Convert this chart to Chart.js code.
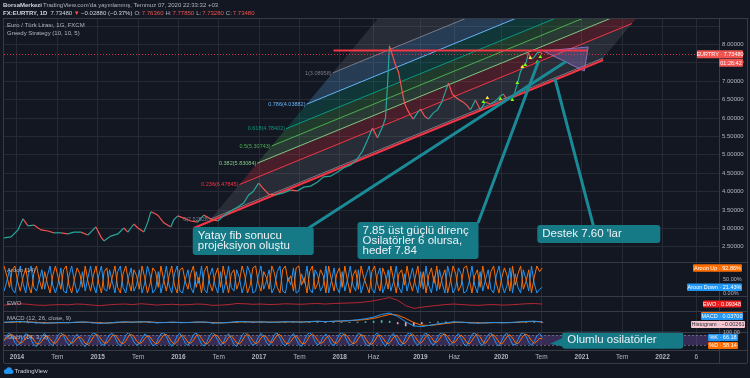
<!DOCTYPE html>
<html><head><meta charset="utf-8">
<script src="https://cdn.jsdelivr.net/npm/chart.js@4.4.1/dist/chart.umd.min.js"></script>
<style>html,body{margin:0;padding:0;background:#131722;overflow:hidden}canvas{display:block}</style>
</head><body>
<canvas id="c" width="750" height="378"></canvas>
<script>
// ================= DATA =================
const priceDates = [2013.839,2013.926,2014.012,2014.074,2014.136,2014.210,2014.297,2014.384,2014.458,2014.545,
2014.631,2014.705,2014.792,2014.879,2014.978,2015.040,2015.077,2015.163,2015.250,2015.324,
2015.374,2015.448,2015.498,2015.572,2015.621,2015.658,2015.696,2015.745,2015.819,2015.906,
2015.943,2015.993,2016.067,2016.153,2016.240,2016.314,2016.401,2016.488,2016.562,2016.649,
2016.735,2016.809,2016.871,2016.921,2016.995,2017.045,2017.119,2017.205,2017.292,2017.391,
2017.478,2017.552,2017.639,2017.725,2017.800,2017.886,2017.973,2018.047,2018.134,2018.208,
2018.282,2018.344,2018.406,2018.468,2018.530,2018.567,2018.592,2018.616,2018.653,2018.691,
2018.728,2018.765,2018.802,2018.839,2018.876,2018.913,2018.963,2019.000,2019.050,2019.099,
2019.161,2019.210,2019.260,2019.309,2019.347,2019.396,2019.433,2019.483,2019.532,2019.582,
2019.619,2019.681,2019.743,2019.804,2019.866,2019.928,2019.990,2020.027,2020.077,2020.126,
2020.163,2020.200,2020.238,2020.275,2020.312,2020.337,2020.374,2020.411,2020.448,2020.485,
2020.510];
const priceValues = [2.74,2.77,2.96,3.26,3.07,3.09,2.96,2.93,2.88,2.88,
2.85,2.90,2.90,2.82,3.04,2.77,2.66,2.79,2.85,3.01,
2.90,3.12,3.01,2.90,3.17,3.45,3.42,3.36,3.15,3.04,
3.23,3.34,3.28,3.20,3.17,3.36,3.26,3.20,3.34,3.47,
3.58,3.69,3.91,3.99,4.23,4.10,3.93,3.91,3.96,4.04,
4.02,4.12,4.15,4.26,4.40,4.42,4.53,4.64,4.72,4.86,
5.10,5.40,5.73,5.46,5.76,6.00,6.90,7.96,7.71,7.44,
7.25,6.82,6.41,6.22,6.08,5.97,6.14,6.24,6.05,5.97,
6.14,6.22,6.41,6.71,6.95,6.65,6.57,6.49,6.43,6.33,
6.22,6.49,6.22,6.43,6.38,6.46,6.60,6.65,6.49,6.54,
6.65,6.92,7.25,7.41,7.52,7.77,7.60,7.66,7.77,7.79,
7.7348];
const lastPrice = 7.7348;

const xTickValues = [2014,2014.5,2015,2015.5,2016,2016.5,2017,2017.5,2018,2018.42,2019,2019.42,2020,2020.5,2021,2021.5,2022,2022.42];
const xTickLabels = ['2014','Tem','2015','Tem','2016','Tem','2017','Tem','2018','Haz','2019','Haz','2020','Tem','2021','Tem','2022','6'];
const priceTicks = [2.5,3,3.5,4,4.5,5,5.5,6,6.5,7,7.5,8,8.5];

// Fib channel (levels, labels, base line and level-1 shift in data units)
const fibLevels = [0,0.236,0.382,0.5,0.618,0.786,1,1.618];
const fibLabels = ['0(7.52528)','0.236(6.47845)','0.382(5.83084)','0.5(5.30743)','0.618(4.78402)','0.786(4.03882)','1(3.08958)',''];
const fibBaseStart = [2016.401, 3.255];
const fibBaseEnd = [2021.265, 7.630];
const fibLevelOneShift = [1.510, 3.968];

// Drawn trend lines [x1,y1,x2,y2]
const supportLine = [2016.191, 3.011, 2021.265, 7.576];
const resistanceLine = [2017.923, 7.837, 2021.067, 7.837];
const pointerLines = [[2017.577,2.957,2020.795,7.522],[2019.718,3.174,2020.460,7.522],[2021.141,3.092,2020.671,7.033]];
const purpleShapeX = [2020.522, 2021.079, 2021.030, 2020.522];
const purpleShapeY = [7.821, 7.929, 7.277, 7.821];

// Greedy strategy markers
const greedyGreenX = [2019.780,2019.990,2020.139,2020.200,2020.300,2020.448,2020.485];
const greedyGreenY = [6.435,6.516,6.489,6.951,7.440,7.522,7.658];
const greedyYellowX = [2019.829,2020.262,2020.361];
const greedyYellowY = [6.543,7.386,7.630];

// Lower panes (evenly spaced samples from first to last bar)
const lowerStart = 2013.84, lowerEnd = 2020.51;
const aroonUp = [100,64,21,86,100,43,7,57,93,29,0,71,100,50,14,79,36,0,64,100,
57,14,86,100,29,0,50,93,71,21,100,43,7,64,100,36,0,79,93,14,
57,100,21,0,71,100,43,7,86,64,14,100,57,0,36,93,79,21,100,50,
7,64,100,29,0,86,93,43,14,71,100,21,57,0,79,100,36,7,64,93,
21,100,50,0,71,86,14,43,100,64,0,29,93,100,36,7,79,57,14,100,
71,21,0,86,100,43,64,7,93,100,29,57,0,79,100,14,36,86,64,0,
100,50,7,71,93,21,100,43,0,64,86,14,100,57,29,0,79,100,36,7,
93,64,14,100,50,0,71,86,29,100,43,7,57,100,21,79,0,64,93,36,
100,14,57,86,0,43,100,71,7,29,93,100,50,0,64,86,21,100,43,14,
79,100,36,0,57,93,64,7,100,29,71,100,14,43,86,0,57,100,79,92.86];
const aroonDown = [7,43,86,14,0,57,100,36,0,71,100,21,7,50,86,14,64,100,29,0,
36,93,7,0,64,100,43,0,21,79,7,57,100,29,0,64,100,14,7,86,
43,0,79,100,21,0,57,93,7,29,86,0,36,100,64,0,14,79,0,43,
100,29,0,71,100,7,0,50,86,21,0,79,36,100,14,0,64,93,29,0,
79,0,43,100,21,7,86,57,0,36,100,71,0,7,64,100,14,43,86,0,
21,79,100,7,0,57,29,93,0,7,71,36,100,14,0,86,64,7,29,100,
0,43,93,21,0,79,7,50,100,29,7,86,0,36,71,100,14,0,64,93,
0,29,86,7,43,100,21,0,71,7,50,93,36,0,79,14,100,29,0,64,
7,86,36,0,100,57,0,21,93,71,0,7,43,100,29,0,79,7,50,86,
14,0,64,100,36,0,29,93,0,71,21,0,86,50,7,100,36,0,14,21.43];
const ewo = [-0.1,0.05,0.15,0.05,-0.1,-0.15,-0.05,0.0,-0.05,0.1,
0.05,-0.1,-0.2,-0.05,0.05,0.1,0.0,0.15,0.05,-0.1,
0.0,0.05,-0.05,0.0,0.1,0.05,-0.15,-0.1,0.0,0.2,
0.15,0.05,0.1,0.0,0.05,0.15,0.1,0.05,0.15,0.2,
0.1,0.2,0.25,0.3,0.35,0.5,0.7,1.0,1.3,0.8,
-0.2,-0.7,-0.5,-0.3,-0.15,0.0,0.1,0.0,-0.1,-0.15,
-0.05,0.0,-0.1,-0.05,0.05,0.15,0.2,0.09348];
const macdLine = [0.02,0.05,0.08,0.03,-0.02,-0.05,-0.03,0.0,-0.02,0.03,
0.04,-0.02,-0.06,-0.04,0.02,0.05,0.02,0.06,0.04,-0.02,
0.0,0.03,-0.01,0.0,0.04,0.03,-0.04,-0.03,0.01,0.07,
0.06,0.03,0.05,0.02,0.03,0.06,0.05,0.03,0.07,0.1,
0.06,0.1,0.12,0.15,0.2,0.28,0.4,0.6,0.7,0.45,
0.05,-0.25,-0.3,-0.2,-0.1,-0.02,0.05,0.02,-0.03,-0.05,
-0.02,0.0,-0.02,0.0,0.04,0.08,0.1,0.037];
const macdSignal = [0.0,0.02,0.05,0.05,0.02,-0.02,-0.03,-0.02,-0.01,0.01,
0.03,0.01,-0.03,-0.04,-0.01,0.03,0.03,0.04,0.05,0.01,
0.0,0.01,0.01,0.0,0.02,0.03,0.0,-0.03,-0.01,0.03,
0.05,0.04,0.04,0.03,0.03,0.04,0.05,0.04,0.05,0.08,
0.07,0.08,0.1,0.13,0.17,0.22,0.3,0.45,0.6,0.55,
0.3,0.0,-0.2,-0.22,-0.15,-0.07,0.0,0.02,0.0,-0.03,
-0.03,-0.01,-0.01,-0.01,0.02,0.05,0.08,0.039];
const macdHist = [0.02,0.03,0.03,-0.02,-0.04,-0.03,0.0,0.02,-0.01,0.02,
0.01,-0.03,-0.03,0.0,0.03,0.02,-0.01,0.02,-0.01,-0.03,
0.0,0.02,-0.02,0.0,0.02,0.0,-0.04,0.0,0.02,0.04,
0.01,-0.01,0.01,-0.01,0.0,0.02,0.0,-0.01,0.02,0.02,
-0.01,0.02,0.02,0.02,0.03,0.06,0.1,0.15,0.1,-0.1,
-0.25,-0.25,-0.1,0.02,0.05,0.05,0.05,0.0,-0.03,-0.02,
0.01,0.01,-0.01,0.01,0.02,0.03,0.02,-0.003];
const stochK = [45,78,92,70,35,18,30,65,88,80,50,22,12,40,72,90,62,28,15,48,
80,94,75,40,20,35,68,85,55,25,10,38,76,92,84,52,24,18,55,82,
90,66,30,14,42,78,95,72,38,20,28,60,86,74,44,16,22,58,88,93,
70,34,12,36,74,90,64,30,18,46,82,92,60,26,14,40,76,94,80,48,
20,32,70,88,58,24,12,44,80,95,78,42,18,30,66,90,72,36,16,50,
84,92,62,28,14,38,72,88,56,22,12,46,82,94,76,40,20,34,70,86,
60,26,16,52,86,95,74,38,18,30,64,90,82,48,20,14,42,78,92,66,
32,12,40,76,90,58,24,16,50,84,94,70,34,18,44,80,92,62,28,22,
56,86,95,76,42,20,36,72,88,60,26,14,48,84,93,68,30,18,54,82,
92,64,28,14,46,80,90,58,24,20,52,86,94,72,36,18,40,74,88,66.18];
const stochD = [50,62,80,82,66,42,28,40,62,80,72,50,28,26,42,68,74,58,36,30,
50,76,84,70,45,30,40,62,70,55,30,22,40,68,84,76,52,32,32,52,
76,80,62,36,28,44,72,84,72,44,28,36,58,76,68,44,28,32,56,80,
84,64,38,26,40,66,80,62,36,30,48,76,82,60,34,26,42,68,82,74,
48,28,40,66,76,56,32,26,44,72,86,72,46,28,36,62,78,68,42,32,
56,80,82,60,34,26,40,64,76,54,30,26,46,74,86,72,46,30,36,62,
76,58,34,30,50,76,86,72,44,28,34,60,82,76,50,28,24,44,72,80,
64,38,26,40,66,78,60,34,28,46,74,86,70,42,30,46,72,84,66,40,
36,56,80,86,72,46,32,42,66,80,62,36,26,46,72,86,70,40,30,52,
76,82,62,36,26,46,72,82,62,36,28,50,76,86,72,46,30,42,60,58.14];

// ================= STYLE / BUILD =================
const BG='#131722', GRID='#262a35', FRAME='#363a45', TXT='#b2b5be';
const TEAL='#26a69a', RED='#ef5350';
const FONT='"Liberation Sans", Arial, sans-serif';
const fibColors=['#787b86','#f23645','#81c784','#4caf50','#089981','#64b5f6','#787b86','#787b86'];
const bandColors=['rgba(120,123,134,0.22)','rgba(242,54,69,0.24)','rgba(129,199,132,0.2)','rgba(76,175,80,0.24)','rgba(8,153,129,0.24)','rgba(100,181,246,0.24)','rgba(120,123,134,0.22)'];

Chart.defaults.font.family = FONT;
Chart.defaults.elements.point.radius = 0;
Chart.defaults.elements.line.tension = 0;

const xy = (xs, ys) => xs.map((x,i)=>({x, y: ys[i]}));
const spread = vals => vals.map((v,i)=>({x: lowerStart + i*(lowerEnd-lowerStart)/(vals.length-1), y: v}));
const fibPt = (base, L) => ({x: base[0] + L*fibLevelOneShift[0], y: base[1] + L*fibLevelOneShift[1]});
const seg = a => [{x:a[0],y:a[1]},{x:a[2],y:a[3]}];

const datasets = [];
for (let i=0;i<fibLevels.length-1;i++){
  const a=fibLevels[i], b=fibLevels[i+1];
  datasets.push({type:'line', yAxisID:'y', order:100,
    data:[fibPt(fibBaseStart,a),fibPt(fibBaseEnd,a),fibPt(fibBaseEnd,b),fibPt(fibBaseStart,b),fibPt(fibBaseStart,a)],
    borderColor:'rgba(0,0,0,0)', borderWidth:0, fill:'shape', backgroundColor:bandColors[i]});
}
for (let i=0;i<fibLevels.length-1;i++){
  const L=fibLevels[i];
  datasets.push({type:'line', yAxisID:'y', order:90, data:[fibPt(fibBaseStart,L),fibPt(fibBaseEnd,L)],
    borderColor:fibColors[i], borderWidth:1, fill:false});
}
datasets.push({type:'line', yAxisID:'y', order:85, data:xy(purpleShapeX,purpleShapeY),
  borderColor:'rgba(149,117,205,0.9)', borderWidth:1, fill:'shape', backgroundColor:'rgba(149,117,205,0.35)'});
datasets.push({type:'line', yAxisID:'y', order:80, data:seg(supportLine), borderColor:'#f23645', borderWidth:2, fill:false});
datasets.push({type:'line', yAxisID:'y', order:80, data:seg(resistanceLine), borderColor:'#f23645', borderWidth:2, fill:false});
datasets.push({type:'line', yAxisID:'y', order:20, data:xy(priceDates,priceValues), borderWidth:1.2, fill:false,
  borderColor:TEAL, segment:{borderColor:c=>c.p1.parsed.y>=c.p0.parsed.y?TEAL:RED}});
datasets.push({type:'line', yAxisID:'y', order:15, data:xy(greedyGreenX,greedyGreenY), showLine:false,
  pointStyle:'triangle', pointRadius:2.2, pointBackgroundColor:'#76ff03', pointBorderWidth:0});
datasets.push({type:'line', yAxisID:'y', order:15, data:xy(greedyYellowX,greedyYellowY), showLine:false,
  pointStyle:'triangle', pointRadius:2.2, pointBackgroundColor:'#ffeb3b', pointBorderWidth:0});
pointerLines.forEach(p=>datasets.push({type:'line', yAxisID:'y', order:5, data:seg(p), borderColor:'#1a8a96', borderWidth:3, fill:false, borderCapStyle:'round'}));
datasets.push({type:'line', yAxisID:'yA', order:30, data:spread(aroonUp), borderColor:'#ff6d00', borderWidth:1, fill:false});
datasets.push({type:'line', yAxisID:'yA', order:31, data:spread(aroonDown), borderColor:'#2196f3', borderWidth:1, fill:false});
datasets.push({type:'line', yAxisID:'yE', order:30, data:spread(ewo), borderColor:'#b22833', borderWidth:1, fill:false});
datasets.push({type:'bar', yAxisID:'yM', order:33, data:spread(macdHist), barThickness:1, grouped:false,
  backgroundColor:c=>(c.raw&&c.raw.y<0)?'#f7a1ab':'#4db6ac'});
datasets.push({type:'line', yAxisID:'yM', order:31, data:spread(macdLine), borderColor:'#2196f3', borderWidth:1, fill:false});
datasets.push({type:'line', yAxisID:'yM', order:32, data:spread(macdSignal), borderColor:'#ff6d00', borderWidth:1, fill:false});
datasets.push({type:'line', yAxisID:'yS', order:31, data:spread(stochK), borderColor:'#2196f3', borderWidth:1, fill:false});
datasets.push({type:'line', yAxisID:'yS', order:30, data:spread(stochD), borderColor:'#ff6d00', borderWidth:1, fill:false});

const callouts = [
  {ax:'y', at:[2016.178,3.038], w:121, h:28, lines:['Yatay fib sonucu','projeksiyon oluştu']},
  {ax:'y', at:[2018.220,3.174], w:121, h:37, lines:['7.85 üst güçlü direnç','Osilatörler 6 olursa,','hedef 7.84']},
  {ax:'y', at:[2020.448,3.092], w:123, h:18, lines:["Destek 7.60 'lar"]},
  {ax:'yS', at:[2020.757,100], w:121, h:17, lines:['Olumlu osilatörler'], tail:true}
];

function rr(g,x,y,w,h,r){g.beginPath();g.moveTo(x+r,y);g.arcTo(x+w,y,x+w,y+h,r);g.arcTo(x+w,y+h,x,y+h,r);g.arcTo(x,y+h,x,y,r);g.arcTo(x,y,x+w,y,r);g.closePath();}
function tag(g,x,y,w,h,bg,text,fg){g.fillStyle=bg;rr(g,x,y,w,h,1);g.fill();g.fillStyle=fg||'#ffffff';g.font='5.5px '+FONT;g.textAlign='center';g.textBaseline='middle';g.fillText(text,x+w/2,y+h/2+0.4);g.textAlign='left';}
function seq(g,x,y,parts){for(const p of parts){g.font=p[2];g.fillStyle=p[1];g.fillText(p[0],x,y);x+=g.measureText(p[0]).width+(p[3]||0);}}
function hline(g,x1,x2,y,col){g.strokeStyle=col;g.lineWidth=1;g.beginPath();g.moveTo(x1,Math.round(y)+0.5);g.lineTo(x2,Math.round(y)+0.5);g.stroke();}
function vline(g,x,y1,y2,col){g.strokeStyle=col;g.lineWidth=1;g.beginPath();g.moveTo(Math.round(x)+0.5,y1);g.lineTo(Math.round(x)+0.5,y2);g.stroke();}

const paint = {
  id:'paint',
  beforeDraw(c){const g=c.ctx;g.save();g.fillStyle=BG;g.fillRect(0,0,c.width,c.height);g.restore();},
  beforeDatasetsDraw(c){
    const s=c.scales.yS,a=c.chartArea,g=c.ctx;
    const y80=s.getPixelForValue(80),y20=s.getPixelForValue(20);
    g.save();g.fillStyle='rgba(126,87,194,0.33)';g.fillRect(a.left,y80,a.right-a.left,y20-y80);
    g.setLineDash([2,2]);[y80,y20].forEach(y=>hline(g,a.left,a.right,y,'rgba(140,140,160,0.6)'));g.restore();
  },
  afterDatasetsDraw(c){
    const g=c.ctx,x=c.scales.x,y=c.scales.y,a=c.chartArea;
    g.save();
    g.setLineDash([1,2]);hline(g,a.left,a.right,y.getPixelForValue(lastPrice),'rgba(242,54,69,0.85)');g.setLineDash([]);
    g.font='5.5px '+FONT;g.textAlign='right';g.textBaseline='middle';
    fibLevels.forEach((L,i)=>{if(!fibLabels[i])return;const p=fibPt(fibBaseStart,L);g.fillStyle=fibColors[i];
      g.fillText(fibLabels[i],x.getPixelForValue(p.x)-1,y.getPixelForValue(p.y));});
    g.textAlign='left';
    callouts.forEach(cb=>{
      const px=x.getPixelForValue(cb.at[0]),py=c.scales[cb.ax].getPixelForValue(cb.at[1]);
      g.fillStyle='#167a86';
      if(cb.tail){g.beginPath();g.moveTo(px+1,py+6);g.lineTo(px-12,py+12);g.lineTo(px+1,py+15);g.closePath();g.fill();}
      rr(g,px,py,cb.w,cb.h,3);g.fill();
      g.fillStyle='#eef1f6';g.font='11.5px '+FONT;g.textBaseline='middle';
      cb.lines.forEach((t,i)=>g.fillText(t,px+5,py+(cb.tail?8:8.5)+i*10));
    });
    g.restore();
  },
  afterDraw(c){
    const g=c.ctx,a=c.chartArea,sc=c.scales;
    g.save();
    ['yA','yE','yM','yS'].forEach(k=>hline(g,a.left,747,sc[k].top,FRAME));
    hline(g,a.left,747,a.top,FRAME);hline(g,a.left,747,a.bottom,FRAME);hline(g,a.left,747,363,FRAME);
    vline(g,a.left-1,a.top,363,FRAME);vline(g,747,a.top,363,FRAME);vline(g,a.right,a.top,363,FRAME);
    g.textBaseline='middle';g.textAlign='left';
    seq(g,3,5.5,[['BorsaMerkezi','#d1d4dc','bold 6px '+FONT,1],["TradingView.com'da yayınlanmış, Temmuz 07, 2020 22:33:32 +03",TXT,'6px '+FONT]]);
    const F6='6px '+FONT;
    seq(g,3,13.5,[['FX:EURTRY, 1D','#d1d4dc','bold 6px '+FONT,3],['7.73480','#d1d4dc',F6,1.5],['▼','#ef5350',F6,1.5],['−0.02880 (−0.37%)','#d1d4dc',F6,2],
      ['O:',TXT,F6,1],['7.76360','#ef5350',F6,2],['H:',TXT,F6,1],['7.77850','#ef5350',F6,2],['L:',TXT,F6,1],['7.73280','#ef5350',F6,2],['C:',TXT,F6,1],['7.73480','#ef5350',F6]]);
    g.font=F6;g.fillStyle=TXT;
    g.fillText('Euro / Türk Lirası, 1G, FXCM',7,a.top+7);
    g.fillText('Greedy Strategy (10, 10, 5)',7,a.top+15);
    g.fillText('Aroon (14)',7,sc.yA.top+8);
    g.fillText('EWO',7,sc.yE.top+7);
    g.fillText('MACD (12, 26, close, 9)',7,sc.yM.top+7);
    g.fillText('Stoch (14, 3, 3)',7,sc.yS.top+5);
    g.font='5.5px '+FONT;g.fillStyle=TXT;
    g.fillText('50.00%',723,sc.yA.getPixelForValue(50));
    g.fillText('0.00%',723,sc.yA.getPixelForValue(0));
    g.fillText('100.00',723,sc.yS.top);
    const yp=sc.y.getPixelForValue(lastPrice);
    tag(g,697,yp-4,46,8,'#ef5350','EURTRY · 7.73480');
    tag(g,719,yp+4.5,24,8,'#ef5350','01:26:42');
    tag(g,693,sc.yA.getPixelForValue(92.86)-3.8,49,7.5,'#ff6d00','Aroon Up · 92.86%');
    tag(g,687,sc.yA.getPixelForValue(21.43)-3.8,55,7.5,'#2196f3','Aroon Down · 21.43%');
    tag(g,703,sc.yE.getPixelForValue(0.09348)-3.5,38,7,'#f01c1c','EWO · 0.09348');
    tag(g,701,sc.yM.top+1,42,7,'#ff6d00','');
    tag(g,701,sc.yM.top+2,42,7,'#2196f3','MACD · 0.03700');
    tag(g,691,sc.yM.top+10,54,7,'#f8c8d2','Histogram · −0.00261','#2a2e39');
    tag(g,708,sc.yS.top+2,30,7,'#2196f3','%K · 66.18');
    tag(g,708,sc.yS.top+10,30,7,'#ff6d00','%D · 58.14');
    g.fillStyle='#2196f3';
    g.beginPath();g.arc(6,371.5,2.2,0,7);g.arc(9,370,2.8,0,7);g.arc(11.5,371.8,2,0,7);g.fill();g.fillRect(5,371.5,7,2.3);
    g.font='6px '+FONT;g.fillStyle='#d1d4dc';g.fillText('TradingView',14.5,371.5);
    g.restore();
  }
};

const sideAxis = (weight,min,max) => ({type:'linear',position:'right',stack:'panes',stackWeight:weight,min,max,
  ticks:{display:false},grid:{display:false},border:{display:true,color:FRAME},afterFit(s){s.width=31;}});

new Chart(document.getElementById('c'),{
  type:'line',
  data:{datasets},
  options:{
    responsive:false,animation:false,devicePixelRatio:1,events:[],
    layout:{padding:{left:3,top:18,right:0,bottom:15}},
    plugins:{legend:{display:false},tooltip:{enabled:false}},
    scales:{
      x:{type:'linear',position:'bottom',min:2013.839,max:2022.70,offset:false,
        afterBuildTicks(s){s.ticks=xTickValues.map(v=>({value:v}));},
        ticks:{autoSkip:false,maxRotation:0,padding:3,color:TXT,
          callback:(v,i)=>xTickLabels[i],
          font:c=>({size:6.5,family:FONT,weight:/^\d{4}$/.test(xTickLabels[c.index]||'')?'bold':'normal'})},
        grid:{color:GRID,drawTicks:false,offset:false},border:{display:false},afterFit(s){s.height=13;}},
      y:{type:'linear',position:'right',stack:'panes',stackWeight:244,min:2.087,max:8.7174,
        afterBuildTicks(s){s.ticks=priceTicks.map(v=>({value:v}));},
        ticks:{autoSkip:false,padding:3,color:TXT,font:{size:6},callback:v=>v>8.2?'':v.toFixed(5)},
        grid:{color:GRID,drawTicks:false},border:{display:true,color:FRAME},afterFit(s){s.width=31;}},
      yA:sideAxis(34,-11.1,114.8),
      yE:sideAxis(15,-1.2,1.6),
      yM:sideAxis(21,-0.7,0.85),
      yS:sideAxis(18,-10,98)
    }
  },
  plugins:[paint]
});
</script>
</body></html>
